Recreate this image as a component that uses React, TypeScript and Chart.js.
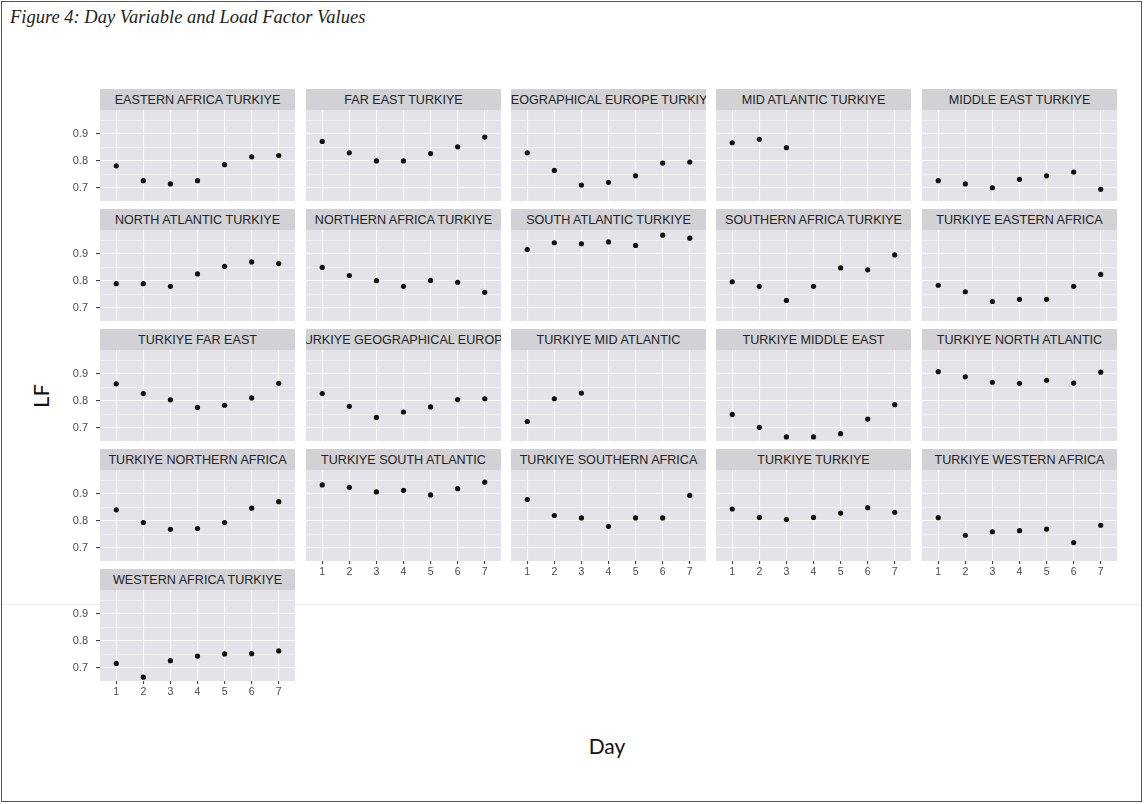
import React, { useEffect, useRef } from "react";
import { Chart, registerables } from "chart.js";

Chart.register(...registerables);

// ---------------- data ----------------
const DAYS = [1, 2, 3, 4, 5, 6, 7];
const Y_MAJOR_TICKS = [0.7, 0.8, 0.9];
const Y_MINOR_TICKS = [0.75, 0.85, 0.95];

const PANEL_NAMES = [
  "EASTERN AFRICA TURKIYE",
  "FAR EAST TURKIYE",
  "GEOGRAPHICAL EUROPE TURKIYE",
  "MID ATLANTIC TURKIYE",
  "MIDDLE EAST TURKIYE",
  "NORTH ATLANTIC TURKIYE",
  "NORTHERN AFRICA TURKIYE",
  "SOUTH ATLANTIC TURKIYE",
  "SOUTHERN AFRICA TURKIYE",
  "TURKIYE EASTERN AFRICA",
  "TURKIYE FAR EAST",
  "TURKIYE GEOGRAPHICAL EUROPE",
  "TURKIYE MID ATLANTIC",
  "TURKIYE MIDDLE EAST",
  "TURKIYE NORTH ATLANTIC",
  "TURKIYE NORTHERN AFRICA",
  "TURKIYE SOUTH ATLANTIC",
  "TURKIYE SOUTHERN AFRICA",
  "TURKIYE TURKIYE",
  "TURKIYE WESTERN AFRICA",
  "WESTERN AFRICA TURKIYE",
];

const EASTERN_AFRICA_TURKIYE = [0.781, 0.726, 0.714, 0.726, 0.785, 0.814, 0.819];
const FAR_EAST_TURKIYE = [0.871, 0.829, 0.799, 0.799, 0.826, 0.851, 0.887];
const GEOGRAPHICAL_EUROPE_TURKIYE = [0.829, 0.764, 0.71, 0.72, 0.744, 0.791, 0.795];
const MID_ATLANTIC_TURKIYE = [0.866, 0.879, 0.848, null, null, null, null];
const MIDDLE_EAST_TURKIYE = [0.726, 0.714, 0.7, 0.731, 0.744, 0.758, 0.694];
const NORTH_ATLANTIC_TURKIYE = [0.789, 0.789, 0.779, 0.825, 0.853, 0.869, 0.863];
const NORTHERN_AFRICA_TURKIYE = [0.849, 0.819, 0.8, 0.779, 0.801, 0.794, 0.757];
const SOUTH_ATLANTIC_TURKIYE = [0.915, 0.94, 0.936, 0.943, 0.93, 0.968, 0.957];
const SOUTHERN_AFRICA_TURKIYE = [0.796, 0.779, 0.727, 0.779, 0.847, 0.84, 0.895];
const TURKIYE_EASTERN_AFRICA = [0.783, 0.759, 0.723, 0.731, 0.731, 0.779, 0.823];
const TURKIYE_FAR_EAST = [0.862, 0.826, 0.803, 0.775, 0.783, 0.81, 0.864];
const TURKIYE_GEOGRAPHICAL_EUROPE = [0.826, 0.779, 0.738, 0.758, 0.777, 0.804, 0.807];
const TURKIYE_MID_ATLANTIC = [0.723, 0.807, 0.828, null, null, null, null];
const TURKIYE_MIDDLE_EAST = [0.749, 0.701, 0.666, 0.666, 0.678, 0.732, 0.785];
const TURKIYE_NORTH_ATLANTIC = [0.907, 0.888, 0.868, 0.864, 0.875, 0.865, 0.905];
const TURKIYE_NORTHERN_AFRICA = [0.84, 0.793, 0.768, 0.771, 0.793, 0.846, 0.87];
const TURKIYE_SOUTH_ATLANTIC = [0.932, 0.923, 0.906, 0.912, 0.895, 0.918, 0.942];
const TURKIYE_SOUTHERN_AFRICA = [0.878, 0.819, 0.81, 0.779, 0.81, 0.81, 0.893];
const TURKIYE_TURKIYE = [0.843, 0.812, 0.804, 0.812, 0.828, 0.848, 0.831];
const TURKIYE_WESTERN_AFRICA = [0.811, 0.746, 0.759, 0.763, 0.769, 0.719, 0.783];
const WESTERN_AFRICA_TURKIYE = [0.716, 0.665, 0.726, 0.743, 0.751, 0.752, 0.762];

const PANEL_VALUES = [
  EASTERN_AFRICA_TURKIYE,
  FAR_EAST_TURKIYE,
  GEOGRAPHICAL_EUROPE_TURKIYE,
  MID_ATLANTIC_TURKIYE,
  MIDDLE_EAST_TURKIYE,
  NORTH_ATLANTIC_TURKIYE,
  NORTHERN_AFRICA_TURKIYE,
  SOUTH_ATLANTIC_TURKIYE,
  SOUTHERN_AFRICA_TURKIYE,
  TURKIYE_EASTERN_AFRICA,
  TURKIYE_FAR_EAST,
  TURKIYE_GEOGRAPHICAL_EUROPE,
  TURKIYE_MID_ATLANTIC,
  TURKIYE_MIDDLE_EAST,
  TURKIYE_NORTH_ATLANTIC,
  TURKIYE_NORTHERN_AFRICA,
  TURKIYE_SOUTH_ATLANTIC,
  TURKIYE_SOUTHERN_AFRICA,
  TURKIYE_TURKIYE,
  TURKIYE_WESTERN_AFRICA,
  WESTERN_AFRICA_TURKIYE,
];

const TITLE = "Figure 4: Day Variable and Load Factor Values";
const X_TITLE = "Day";
const Y_TITLE = "LF";

// ---------------- layout ----------------
const COL_X = [100, 306, 511, 716, 922];
const PANEL_W = 195;
const PANEL_H = 91;
const STRIP_H = 21;
const ROW_TOP0 = 89;
const ROW_PITCH = 120;
const AX_W = 44;
const XAX_H = 20;
const Y_MIN = 0.651;
const Y_MAX = 0.987;

const bgPlugin = {
  id: "panelBg",
  beforeDraw(chart: any) {
    const { ctx, chartArea } = chart;
    ctx.save();
    ctx.fillStyle = "#E5E3EA";
    ctx.fillRect(chartArea.left, chartArea.top, chartArea.right - chartArea.left, chartArea.bottom - chartArea.top);
    ctx.restore();
  },
};

function panelPos(i: number) {
  const r = Math.floor(i / 5);
  const c = i % 5;
  const stripTop = ROW_TOP0 + r * ROW_PITCH;
  return { r, c, stripTop, panelTop: stripTop + STRIP_H, left: COL_X[c] };
}

function zeroPad(s: any) {
  s.paddingTop = 0;
  s.paddingBottom = 0;
  s.paddingLeft = 0;
  s.paddingRight = 0;
}

const isMajor = (v: number) => Y_MAJOR_TICKS.some((m) => Math.abs(m - v) < 1e-6);

function makeConfig(i: number): any {
  const { r, c } = panelPos(i);
  const showY = c === 0;
  const showX = (r === 3 && c >= 1) || r === 4;
  const vals = PANEL_VALUES[i];
  const pts = DAYS.map((d, k) => (vals[k] == null ? null : { x: d, y: vals[k] })).filter(Boolean);
  return {
    type: "scatter",
    data: {
      datasets: [
        {
          data: pts,
          pointRadius: 2.6,
          pointHoverRadius: 2.6,
          backgroundColor: "#111",
          borderColor: "#111",
          borderWidth: 0,
        },
      ],
    },
    options: {
      animation: false,
      responsive: false,
      events: [],
      layout: { padding: 0, autoPadding: false },
      plugins: { legend: { display: false }, tooltip: { enabled: false }, title: { display: false } },
      scales: {
        x: {
          type: "linear",
          min: 0.4,
          max: 7.6,
          afterBuildTicks: (s: any) => {
            s.ticks = DAYS.map((v) => ({ value: v }));
          },
          afterFit: (s: any) => {
            s.height = XAX_H;
            zeroPad(s);
          },
          border: { display: false },
          grid: { color: "#FAFAFC", lineWidth: 1.1, tickLength: showX ? 3 : 0, tickColor: "#444" },
          ticks: {
            display: showX,
            color: "#4a4a4a",
            font: { family: "'Liberation Sans', Arial, sans-serif", size: 10.5 },
            padding: 2,
            maxRotation: 0,
            autoSkip: false,
            callback: (v: any) => String(v),
          },
        },
        y: {
          type: "linear",
          min: Y_MIN,
          max: Y_MAX,
          afterBuildTicks: (s: any) => {
            s.ticks = [...Y_MAJOR_TICKS, ...Y_MINOR_TICKS].sort().map((v) => ({ value: v }));
          },
          afterFit: (s: any) => {
            s.width = AX_W;
            zeroPad(s);
          },
          border: { display: false },
          grid: {
            color: "#FAFAFC",
            lineWidth: (ctx: any) => (isMajor(ctx.tick?.value) ? 1.1 : 0.55),
            tickLength: showY ? 4 : 0,
            tickColor: (ctx: any) => (isMajor(ctx.tick?.value) ? "#444" : "rgba(0,0,0,0)"),
          },
          ticks: {
            display: showY,
            color: "#4a4a4a",
            font: { family: "'Liberation Sans', Arial, sans-serif", size: 11 },
            padding: 8,
            autoSkip: false,
            callback: (v: any) => (isMajor(v) ? Number(v).toFixed(1) : ""),
          },
        },
      },
    },
    plugins: [bgPlugin],
  };
}

export default function App() {
  const refs = useRef<(HTMLCanvasElement | null)[]>([]);

  useEffect(() => {
    const charts = PANEL_NAMES.map((_, i) => new Chart(refs.current[i] as HTMLCanvasElement, makeConfig(i)));
    return () => charts.forEach((ch) => ch.destroy());
  }, []);

  return (
    <div style={{ position: "absolute", left: 0, top: 0, width: 1144, height: 804, background: "#fff", overflow: "hidden" }}>
      <div
        style={{
          position: "absolute",
          left: 1,
          top: 1,
          width: 1141,
          height: 801,
          border: "1px solid #555",
          boxSizing: "border-box",
        }}
      />
      <div style={{ position: "absolute", left: 2, top: 604, width: 1139, height: 1, background: "#ececec" }} />
      <div
        style={{
          position: "absolute",
          left: 10,
          top: 7,
          fontFamily: "'Liberation Serif', 'Times New Roman', serif",
          fontStyle: "italic",
          fontSize: 18.5,
          color: "#222",
          whiteSpace: "nowrap",
        }}
      >
        {TITLE}
      </div>
      {PANEL_NAMES.map((name, i) => {
        const { stripTop, panelTop, left } = panelPos(i);
        return (
          <React.Fragment key={name}>
            <div
              style={{
                position: "absolute",
                left,
                top: stripTop,
                width: PANEL_W,
                height: STRIP_H,
                background: "#D2D2D6",
                display: "flex",
                alignItems: "center",
                justifyContent: "center",
                overflow: "hidden",
                whiteSpace: "nowrap",
                fontFamily: "'Liberation Sans', Arial, sans-serif",
                fontSize: 12.6,
                color: "#222",
              }}
            >
              <span style={{ flex: "none" }}>{name}</span>
            </div>
            <canvas
              ref={(el) => {
                refs.current[i] = el;
              }}
              width={PANEL_W + AX_W}
              height={PANEL_H + XAX_H}
              style={{
                position: "absolute",
                left: left - AX_W,
                top: panelTop,
                width: PANEL_W + AX_W,
                height: PANEL_H + XAX_H,
              }}
            />
          </React.Fragment>
        );
      })}
      <div
        style={{
          position: "absolute",
          left: 40,
          top: 396,
          transform: "translate(-50%, -50%) rotate(-90deg)",
          fontFamily: "Lato, 'Open Sans', sans-serif",
          fontSize: 22,
          color: "#111",
          whiteSpace: "nowrap",
        }}
      >
        {Y_TITLE}
      </div>
      <div
        style={{
          position: "absolute",
          left: 607,
          top: 745,
          transform: "translate(-50%, -50%)",
          fontFamily: "Lato, 'Open Sans', sans-serif",
          fontSize: 21,
          color: "#111",
          whiteSpace: "nowrap",
        }}
      >
        {X_TITLE}
      </div>
    </div>
  );
}
